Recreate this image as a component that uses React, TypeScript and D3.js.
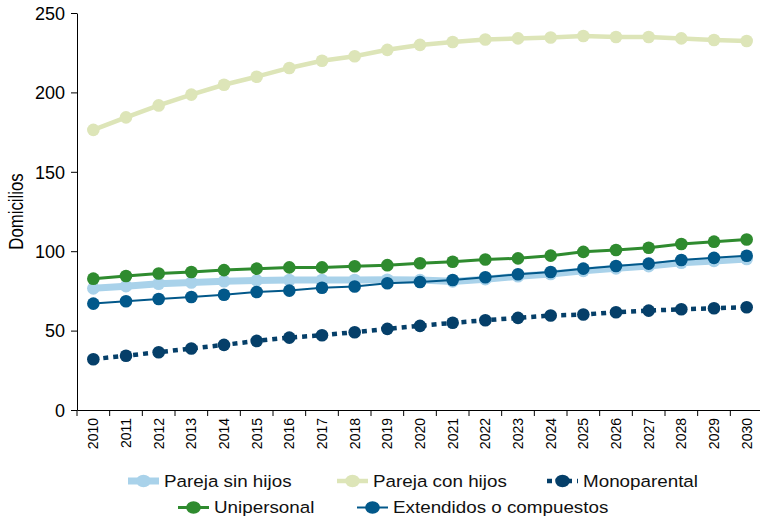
import React, { useEffect, useRef } from 'react';
import * as d3 from 'd3';

const years = [
  '2010', '2011', '2012', '2013', '2014', '2015', '2016', '2017', '2018', '2019', '2020',
  '2021', '2022', '2023', '2024', '2025', '2026', '2027', '2028', '2029', '2030',
];

const parejaSinHijos = [76.6, 78, 79.5, 80.3, 81.1, 81.6, 81.9, 81.9, 81.9, 82, 81.8, 81, 82.4, 84.2, 85.6, 87.6, 89.2, 90.6, 92.7, 93.9, 95.1];
const parejaConHijos = [176.4, 184.3, 191.8, 198.6, 204.8, 209.9, 215.4, 219.9, 222.8, 226.8, 229.9, 231.7, 233.3, 234, 234.6, 235.5, 234.9, 234.9, 234, 233, 232.4];
const monoparental = [32, 34.2, 36.4, 38.7, 41, 43.5, 45.6, 47.1, 49, 51.1, 53, 54.9, 56.5, 58, 59.5, 60.1, 61.6, 62.6, 63.4, 64.1, 64.7];
const unipersonal = [82.7, 84.4, 86, 86.9, 88.1, 89, 89.8, 89.8, 90.5, 91.2, 92.4, 93.4, 94.8, 95.5, 97.2, 99.6, 100.8, 102.2, 104.5, 106, 107.4];
const extendidos = [67, 68.5, 69.9, 71.2, 72.6, 74.3, 75.2, 77, 77.8, 79.8, 80.6, 81.9, 83.6, 85.5, 86.9, 89, 90.7, 92.2, 94.5, 95.8, 97.1];

const yTicks = [0, 50, 100, 150, 200, 250];

interface Serie {
  name: string;
  values: number[];
  color: string;
  width: number;
  dash?: string;
}

const series: Serie[] = [
  { name: 'Pareja sin hijos', values: parejaSinHijos, color: '#a9d2ea', width: 7 },
  { name: 'Pareja con hijos', values: parejaConHijos, color: '#dde5b8', width: 4.5 },
  { name: 'Monoparental', values: monoparental, color: '#053f69', width: 4.5, dash: '5,5' },
  { name: 'Unipersonal', values: unipersonal, color: '#2f8b2f', width: 3 },
  { name: 'Extendidos o compuestos', values: extendidos, color: '#02588a', width: 2 },
];

// legend slots: symbol start x and row
const legendSlots = [
  { x: 128, row: 0 },
  { x: 337, row: 0 },
  { x: 547, row: 0 },
  { x: 178, row: 1 },
  { x: 357, row: 1 },
];

const FONT = '"Liberation Sans", Arial, sans-serif';

const App: React.FC = () => {
  const ref = useRef<SVGSVGElement | null>(null);

  useEffect(() => {
    const W = 760;
    const H = 518;
    const left = 77;
    const right = 763;
    const top = 13;
    const bottom = 410;

    const svg = d3.select(ref.current);
    svg.selectAll('*').remove();
    svg.attr('width', W).attr('height', H).attr('viewBox', `0 0 ${W} ${H}`);

    const x = d3.scaleBand<string>().domain(years).range([left, right]).padding(0);
    const y = d3.scaleLinear().domain([0, 250]).range([bottom, top]);
    const cx = (i: number) => x(years[i])! + x.bandwidth() / 2;

    // y axis
    const yAxis = svg.append('g')
      .attr('transform', `translate(${left},0)`)
      .call(d3.axisLeft(y).tickValues(yTicks).tickSize(6).tickSizeOuter(0));
    yAxis.select('.domain').attr('stroke', '#000');
    yAxis.selectAll('.tick line').attr('stroke', '#000');
    yAxis.selectAll('.tick text')
      .attr('x', -12)
      .attr('dy', '0.35em')
      .attr('text-anchor', 'end')
      .attr('fill', '#000')
      .style('font-family', FONT)
      .style('font-size', '18px');

    // x axis
    const xAxis = svg.append('g')
      .attr('transform', `translate(0,${bottom})`)
      .call(d3.axisBottom(x).tickSize(0).tickSizeOuter(0));
    xAxis.select('.domain').attr('stroke', '#000');
    xAxis.selectAll('.tick text')
      .attr('y', null)
      .attr('dy', '0.35em')
      .attr('transform', 'translate(0,8) rotate(-90)')
      .attr('text-anchor', 'end')
      .attr('fill', '#000')
      .style('font-family', FONT)
      .style('font-size', '14px');
    const edges = [...years.map((d) => x(d)!), right];
    xAxis.selectAll('.edge')
      .data(edges)
      .enter()
      .append('line')
      .attr('x1', (d) => d)
      .attr('x2', (d) => d)
      .attr('y1', 0)
      .attr('y2', 6)
      .attr('stroke', '#000');

    // y title
    svg.append('text')
      .attr('transform', `translate(23,${(top + bottom) / 2}) scale(1.15,1) rotate(-90)`)
      .attr('text-anchor', 'middle')
      .style('font-family', FONT)
      .style('font-size', '16.8px')
      .text('Domicilios');

    // series
    const line = d3.line<number>()
      .x((_, i) => cx(i))
      .y((d) => y(d));

    series.forEach((s) => {
      const g = svg.append('g');
      g.append('path')
        .datum(s.values)
        .attr('d', line)
        .attr('fill', 'none')
        .attr('stroke', s.color)
        .attr('stroke-width', s.width)
        .attr('stroke-dasharray', s.dash ?? null);
      g.selectAll('circle')
        .data(s.values)
        .enter()
        .append('circle')
        .attr('cx', (_, i) => cx(i))
        .attr('cy', (d) => y(d))
        .attr('r', 6.3)
        .attr('fill', s.color);
    });

    // legend
    const rowY = [481, 507.5];
    series.forEach((s, i) => {
      const slot = legendSlots[i];
      const ly = rowY[slot.row];
      const g = svg.append('g');
      g.append('line')
        .attr('x1', slot.x)
        .attr('x2', slot.x + 31)
        .attr('y1', ly)
        .attr('y2', ly)
        .attr('stroke', s.color)
        .attr('stroke-width', s.width)
        .attr('stroke-dasharray', s.dash ?? null);
      g.append('ellipse')
        .attr('cx', slot.x + 15.5)
        .attr('cy', ly)
        .attr('rx', 7.3)
        .attr('ry', 6.2)
        .attr('fill', s.color);
      g.append('text')
        .attr('transform', `translate(${slot.x + 36},${ly}) scale(1.12,1)`)
        .attr('dy', '0.35em')
        .style('font-family', FONT)
        .style('font-size', '16.8px')
        .attr('fill', '#111')
        .text(s.name);
    });
  }, []);

  return <svg ref={ref} style={{ position: 'absolute', left: 0, top: 0, background: '#fff' }} />;
};

export default App;
